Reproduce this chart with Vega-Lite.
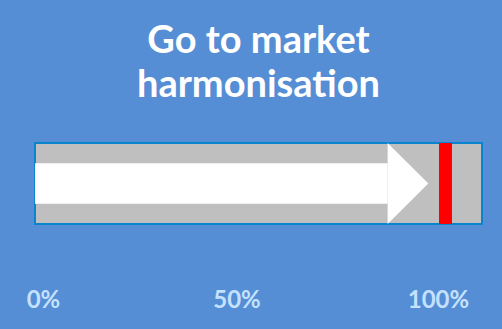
{
  "$schema": "https://vega.github.io/schema/vega-lite/v6.json",
  "width": 447,
  "height": 81,
  "autosize": "none",
  "padding": {"left": 35, "top": 143, "right": 20, "bottom": 105},
  "background": "#558ED5",
  "title": {
    "text": ["Go to market", "harmonisation"],
    "font": "Lato",
    "fontSize": 38,
    "fontWeight": "bold",
    "color": "#FFFFFF",
    "lineHeight": 44,
    "anchor": "middle",
    "offset": 37
  },
  "config": {"view": {"stroke": null}},
  "datasets": {
    "track": [{"start": 0, "end": 1.1092, "lo": 0, "hi": 1}],
    "shaft": [{"start": 0, "end": 0.875, "lo": 0.25, "hi": 0.75}],
    "head": [
      {"x": 0.875, "lo": 0, "hi": 1},
      {"x": 0.976, "lo": 0.5, "hi": 0.5}
    ],
    "target": [{"start": 1.0025, "end": 1.0347, "lo": 0, "hi": 1}]
  },
  "layer": [
    {
      "data": {"name": "track"},
      "mark": {"type": "rect", "color": "#BFBFBF", "stroke": "#0B84CE", "strokeWidth": 2},
      "encoding": {
        "x": {"field": "start", "type": "quantitative", "scale": {"domain": [0, 1.1092], "nice": false, "zero": true},
          "axis": {"values": [0, 0.5, 1], "format": ".0%", "domain": false, "ticks": false, "tickSize": 0, "grid": false, "title": null,
            "labelFont": "Lato", "labelFontSize": 24, "labelFontWeight": "bold", "labelColor": "#C4E2FF", "labelPadding": 64,
            "labelFlush": false,
            "labelOffset": {"condition": {"test": "datum.value === 0", "value": 8}, "value": 0}}},
        "x2": {"field": "end"},
        "y": {"field": "lo", "type": "quantitative", "scale": {"domain": [0, 1], "nice": false}, "axis": null},
        "y2": {"field": "hi"}
      }
    },
    {
      "data": {"name": "shaft"},
      "mark": {"type": "rect", "color": "#FFFFFF"},
      "encoding": {
        "x": {"field": "start", "type": "quantitative"},
        "x2": {"field": "end"},
        "y": {"field": "lo", "type": "quantitative"},
        "y2": {"field": "hi"}
      }
    },
    {
      "data": {"name": "head"},
      "mark": {"type": "area", "color": "#FFFFFF", "opacity": 1, "interpolate": "linear", "orient": "vertical"},
      "encoding": {
        "x": {"field": "x", "type": "quantitative"},
        "y": {"field": "lo", "type": "quantitative", "stack": null},
        "y2": {"field": "hi"}
      }
    },
    {
      "data": {"name": "target"},
      "mark": {"type": "rect", "color": "#FF0000"},
      "encoding": {
        "x": {"field": "start", "type": "quantitative"},
        "x2": {"field": "end"},
        "y": {"field": "lo", "type": "quantitative"},
        "y2": {"field": "hi"}
      }
    }
  ]
}
